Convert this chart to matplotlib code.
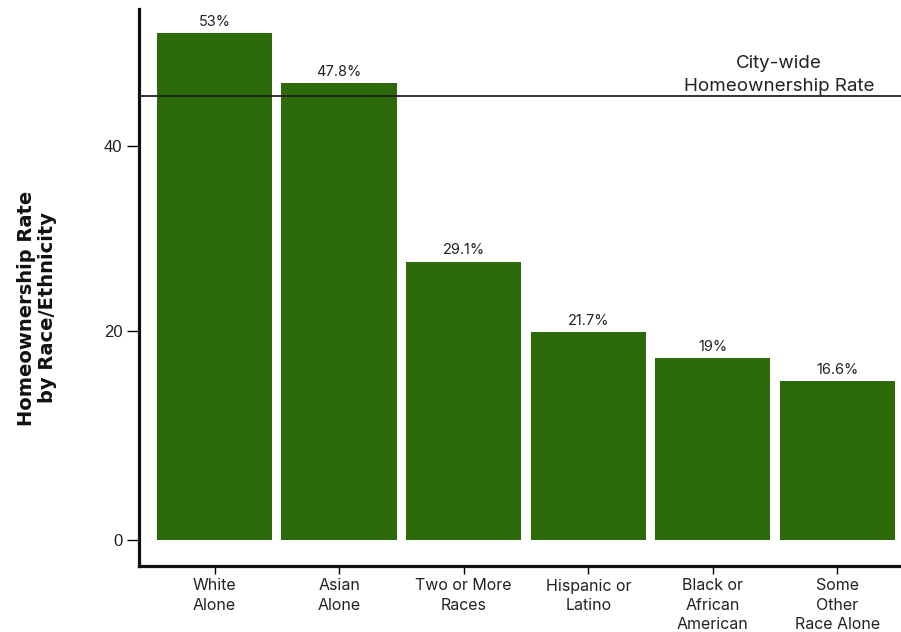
import matplotlib.pyplot as plt

# data
groups = ["White\nAlone", "Asian\nAlone", "Two or More\nRaces", "Hispanic or\nLatino",
          "Black or\nAfrican\nAmerican", "Some\nOther\nRace Alone"]
rates = [53, 47.8, 29.1, 21.7, 19, 16.6]
rate_labels = ["53%", "47.8%", "29.1%", "21.7%", "19%", "16.6%"]
citywide = 46.4
ytick_labels = ["0", "20", "40"]

bar_color = "#2d6a0a"

fig = plt.figure(figsize=(9.01, 6.32), dpi=100)
ax = fig.add_axes([139/901, 1 - 566/632, 1 - 139/901, (566 - 9)/632])

x = range(len(groups))
ax.bar(x, rates, width=0.925, color=bar_color)

# bar value labels
for i, (v, lab) in enumerate(zip(rates, rate_labels)):
    ax.annotate(lab, (i, v), xytext=(0, 3), textcoords="offset points",
                ha="center", va="bottom", fontsize=10.5, family="Inter", color="#222222")

# city-wide reference line
ax.axhline(citywide, color="#222222", lw=1.3)
ax.annotate("City-wide\nHomeownership Rate", (4.53, citywide), xytext=(0, 1),
            textcoords="offset points", ha="center", va="bottom",
            fontsize=13.5, family="Inter", color="#222222", linespacing=1.45)

ax.set_xlim(-0.606, 5.51)
ax.set_ylim(-2.72, 55.5)

ax.set_xticks(list(x))
ax.set_xticklabels(groups, fontsize=11.5, family="Inter", color="#222222", linespacing=1.35)
# ticks sit where the reference draws them
ax.set_yticks([0, 21.8, 41.2])
ax.set_yticklabels(ytick_labels, fontsize=12, family="Liberation Sans", color="#222222")

ax.tick_params(axis="y", length=9, width=1, pad=3)
ax.tick_params(axis="x", length=6, width=1, pad=3)

for s in ["top", "right"]:
    ax.spines[s].set_visible(False)
for s in ["left", "bottom"]:
    ax.spines[s].set_linewidth(2.3)
    ax.spines[s].set_color("#111111")

fig.text(37/901, 1 - 308/632, "Homeownership Rate\nby Race/Ethnicity", rotation=90,
         ha="center", va="center", fontsize=14, fontweight="bold",
         family="DejaVu Sans", color="#111111", linespacing=1.15)

fig.savefig("out.png", dpi=100)
